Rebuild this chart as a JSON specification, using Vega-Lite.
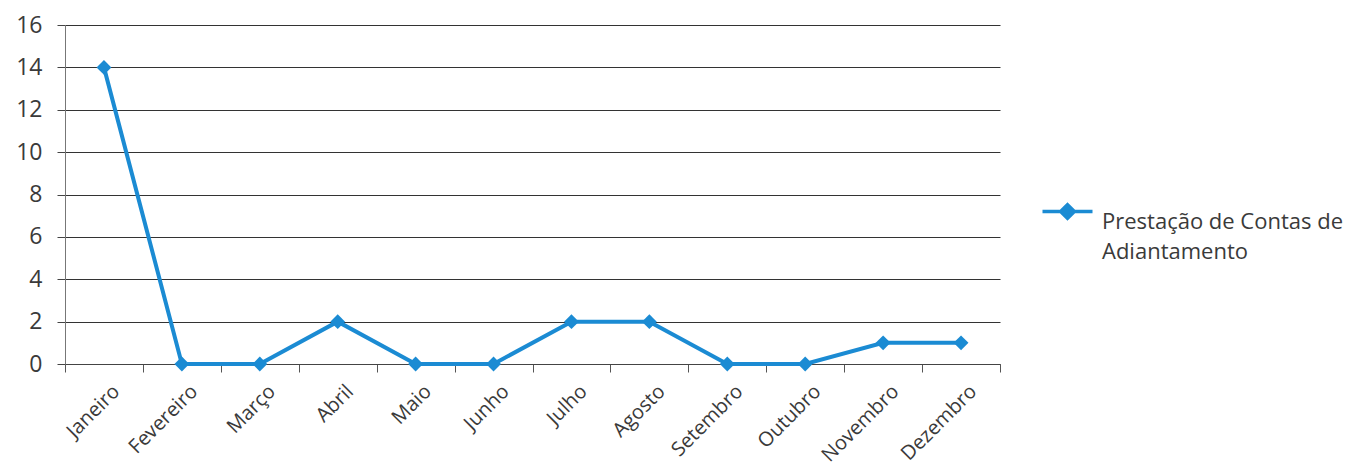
{
  "$schema": "https://vega.github.io/schema/vega-lite/v6.json",
  "autosize": "none",
  "width": 935,
  "height": 339,
  "padding": {"left": 65, "top": 25, "right": 359, "bottom": 104},
  "background": "white",
  "config": {
    "view": {"stroke": null},
    "font": "Open Sans",
    "style": {"guide-label": {"lineHeight": 30}}
  },
  "data": {
    "values": [
      {"mes": "Janeiro", "valor": 14, "serie": "Prestação de Contas de Adiantamento"},
      {"mes": "Fevereiro", "valor": 0, "serie": "Prestação de Contas de Adiantamento"},
      {"mes": "Março", "valor": 0, "serie": "Prestação de Contas de Adiantamento"},
      {"mes": "Abril", "valor": 2, "serie": "Prestação de Contas de Adiantamento"},
      {"mes": "Maio", "valor": 0, "serie": "Prestação de Contas de Adiantamento"},
      {"mes": "Junho", "valor": 0, "serie": "Prestação de Contas de Adiantamento"},
      {"mes": "Julho", "valor": 2, "serie": "Prestação de Contas de Adiantamento"},
      {"mes": "Agosto", "valor": 2, "serie": "Prestação de Contas de Adiantamento"},
      {"mes": "Setembro", "valor": 0, "serie": "Prestação de Contas de Adiantamento"},
      {"mes": "Outubro", "valor": 0, "serie": "Prestação de Contas de Adiantamento"},
      {"mes": "Novembro", "valor": 1, "serie": "Prestação de Contas de Adiantamento"},
      {"mes": "Dezembro", "valor": 1, "serie": "Prestação de Contas de Adiantamento"}
    ]
  },
  "encoding": {
    "x": {
      "field": "mes",
      "type": "nominal",
      "sort": null,
      "scale": {"type": "band", "paddingInner": 0, "paddingOuter": 0},
      "axis": {
        "title": null,
        "labelAngle": -45,
        "labelAlign": "right",
        "labelBaseline": "top",
        "labelFontSize": 20,
        "labelColor": "#3a3a3a",
        "labelPadding": 9,
        "labelOffset": 5,
        "labelOverlap": false,
        "labelBound": false,
        "tickBand": "extent",
        "tickSize": 8,
        "tickColor": "#555",
        "domainColor": "#444",
        "grid": false
      }
    },
    "y": {
      "field": "valor",
      "type": "quantitative",
      "scale": {"domain": [0, 16]},
      "axis": {
        "title": null,
        "values": [0, 2, 4, 6, 8, 10, 12, 14, 16],
        "labelFontSize": 23,
        "labelColor": "#3a3a3a",
        "labelPadding": 15,
        "labelOverlap": false,
        "tickSize": 8,
        "tickColor": "#444",
        "domainColor": "#777",
        "gridColor": "#333",
        "gridWidth": 1.2
      }
    },
    "color": {
      "field": "serie",
      "type": "nominal",
      "scale": {"range": ["#1b8bd3"]},
      "legend": {
        "title": null,
        "orient": "none",
        "legendX": 988,
        "legendY": 172,
        "symbolType": "M-2,0 L2,0 M0,-0.55 L0.55,0 L0,0.55 L-0.55,0 Z",
        "symbolSize": 625,
        "symbolStrokeWidth": 3.5,
        "symbolFillColor": "#1b8bd3",
        "symbolStrokeColor": "#1b8bd3",
        "labelFontSize": 22,
        "labelColor": "#3a3a3a",
        "labelLimit": 400,
        "labelOffset": 20,
        "labelBaseline": "top",
        "labelExpr": "['Prestação de Contas de', 'Adiantamento']"
      }
    }
  },
  "layer": [
    {"mark": {"type": "line", "strokeWidth": 4}},
    {"mark": {"type": "point", "shape": "diamond", "filled": true, "size": 220, "opacity": 1}}
  ]
}
